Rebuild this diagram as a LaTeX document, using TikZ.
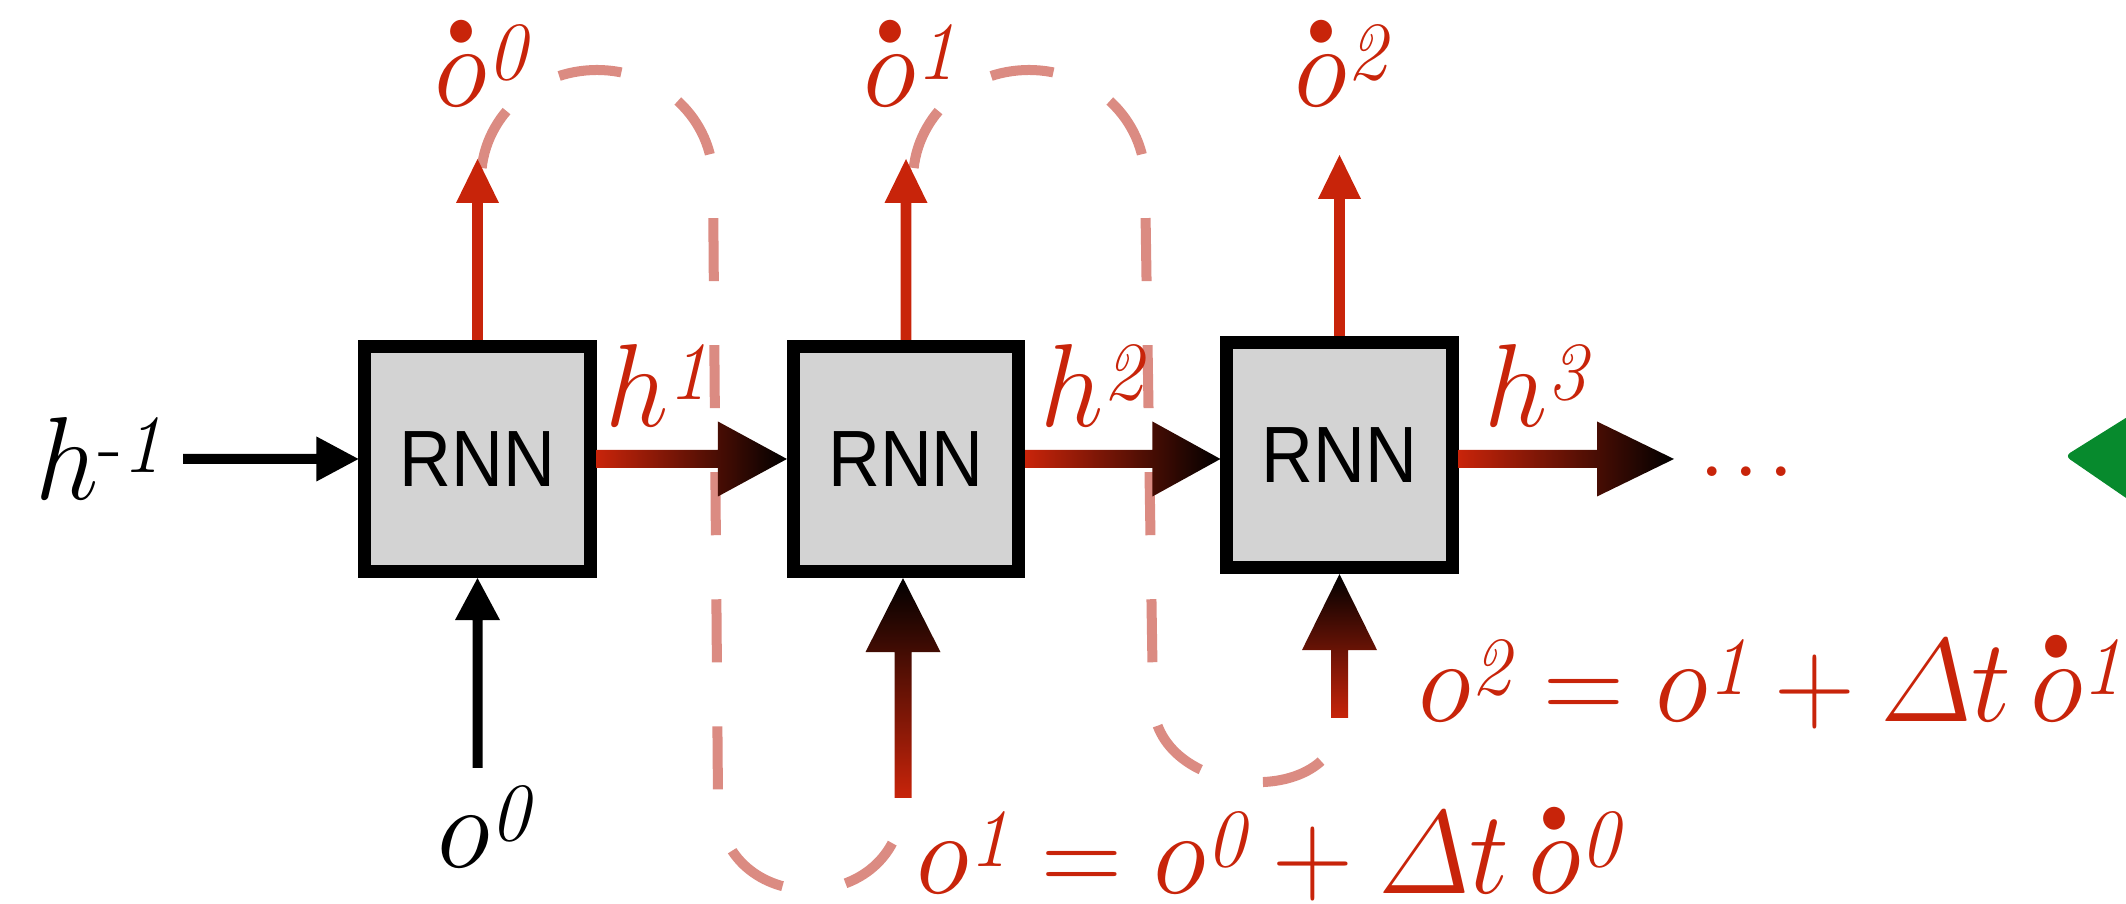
\RequirePackage{fix-cm}
\documentclass[tikz,border=0pt]{standalone}
\usepackage{amsmath}
\usepackage{fontspec}
\setsansfont{Liberation Sans}
\usetikzlibrary{calc}
\definecolor{cred}{RGB}{200,36,10}
\definecolor{cdash}{RGB}{219,139,130}
\definecolor{cgray}{RGB}{211,211,211}
\definecolor{cgreen}{RGB}{7,138,45}
% horizontal arrow polygon: style, from, to, half shaft, head length, half head
\newcommand\harr[6]{\path[#1] ($(#2)+(0,#4)$) -- ($(#3)+(-#5,#4)$) -- ($(#3)+(-#5,#6)$) -- (#3) -- ($(#3)+(-#5,-#6)$) -- ($(#3)+(-#5,-#4)$) -- ($(#2)+(0,-#4)$) -- cycle;}
% upward arrow polygon: style, from (bottom), to (top), half shaft, head length, half head
\newcommand\varr[6]{\path[#1] ($(#2)+(#4,0)$) -- ($(#3)+(#4,-#5)$) -- ($(#3)+(#6,-#5)$) -- (#3) -- ($(#3)+(-#6,-#5)$) -- ($(#3)+(-#4,-#5)$) -- ($(#2)+(-#4,0)$) -- cycle;}
\newcommand\nx[1]{\scalebox{0.95}[1]{#1}}
% lowered italic superscript
\newcommand\sps[1]{^{\lower0.13em\hbox{$\scriptstyle\mathit{#1}$}}}
% big dot accent
\newcommand\bdot[1]{\mathord{\smash{\overset{\raisebox{-0.13em}{$\scriptscriptstyle\bullet$}}{#1}}\vphantom{#1}}}
\tikzset{
  rnnbox/.style={draw=black, line width=0.13cm, fill=cgray, minimum width=2.25cm, minimum height=2.25cm, inner sep=0pt, font=\sffamily\fontsize{22.7}{26}\selectfont},
  lab/.style={inner sep=0pt, anchor=base west, font=\fontsize{33.6}{40}\selectfont},
  loopline/.style={draw=cdash, line width=0.1cm, dash pattern=on 0.63cm off 0.64cm, dash phase=1.15cm},
  gradh/.style={shade, left color=cred, right color=black},
  gradv/.style={shade, bottom color=cred, top color=black}
}
\begin{document}
\begin{tikzpicture}[x=0.01cm, y=0.01cm]
\useasboundingbox (0,0) rectangle (2126,-904);

% boxes
\node[rnnbox] (b1) at (477.5,-459) {\scalebox{0.9}[1]{RNN}};
\node[rnnbox] (b2) at (906,-459) {\scalebox{0.9}[1]{RNN}};
\node[rnnbox] (b3) at (1339.5,-455) {\scalebox{0.9}[1]{RNN}};

% coordinates
\coordinate (hin) at (183,-459);
\coordinate (dot0) at (477.5,-159);
\coordinate (dot1) at (906,-159);
\coordinate (dot2) at (1339.5,-155);
\coordinate (oin0) at (477.5,-768);
\coordinate (oin1) at (903,-798);
\coordinate (oin2) at (1339.5,-718);
\coordinate (h3t) at (1674,-459);
\coordinate (h2t) at (b2.east -| b3.west);
\coordinate (h3s) at (b3.east |- h3t);
\coordinate (o1t) at (b2.south -| oin1);
\coordinate (o2t) at (b3.south -| oin2);

% dashed loops
\draw[loopline] ($(dot0)+(3.5,-21)$) .. controls (481,-119) and (533,-70) .. (597,-70)
  .. controls (661,-70) and (713,-119) .. (713,-180) -- (718,-800)
  .. controls (718,-920) and (902,-920) .. (oin1);
\draw[loopline] ($(dot1)+(7,-21)$) .. controls (913,-119) and (965,-70) .. (1029,-70)
  .. controls (1093,-70) and (1145,-119) .. (1145,-180) -- (1153,-700)
  .. controls (1153,-800) and (1340,-812) .. (oin2);

% horizontal arrows
\harr{fill=black}{hin}{b1.west}{5}{42}{22.5}
\harr{gradh}{b1.east}{b2.west}{9}{69}{37.5}
\harr{gradh}{b2.east}{h2t}{9}{68}{37.5}
\harr{gradh}{h3s}{h3t}{9}{77}{37.5}

% vertical arrows
\varr{fill=cred}{b1.north}{dot0}{5.3}{44}{21.5}
\varr{fill=cred}{b2.north}{dot1}{5.3}{44}{21.5}
\varr{fill=cred}{b3.north}{dot2}{5.3}{44}{21.5}
\varr{fill=black}{oin0}{b1.south}{5}{42}{22.5}
\varr{gradv}{oin1}{o1t}{8.5}{74}{37.5}
\varr{gradv}{oin2}{o2t}{8.5}{76}{37.5}

% green arrow tip at the right edge
\fill[cgreen, rounded corners=0.06cm] (2145,-406) -- (2065,-456) -- (2145,-511) -- cycle;

% labels
\node[lab] (lhm1) at (35,-500) {\nx{$h\sps{\text{-}1}$}};
\node[lab, text=cred] (lh1) at (605,-427) {\nx{$h\sps{1}$}};
\node[lab, text=cred] (lh2) at (1040,-427) {\nx{$h\sps{2}$}};
\node[lab, text=cred] (lh3) at (1484,-427) {\nx{$h\sps{3}$}};
\node[lab, text=cred] (ld0) at (434,-107) {\nx{$\bdot{o}\sps{0}$}};
\node[lab, text=cred] (ld1) at (863,-107) {\nx{$\bdot{o}\sps{1}$}};
\node[lab, text=cred] (ld2) at (1294,-107) {\nx{$\bdot{o}\sps{2}$}};
\node[lab] (lo0) at (437,-868) {\nx{$o\sps{0}$}};
\node[lab, text=cred] (eq1) at (916,-894) {\nx{$o\sps{1} = o\sps{0} + \varDelta t\,\bdot{o}\sps{0}$}};
\node[lab, text=cred] (eq2) at (1418,-722) {\nx{$o\sps{2} = o\sps{1} + \varDelta t\,\bdot{o}\sps{1}$}};
\node[lab, text=cred] (dots) at (1697,-477) {.\kern.04em.\kern.04em.};
\end{tikzpicture}
\end{document}
